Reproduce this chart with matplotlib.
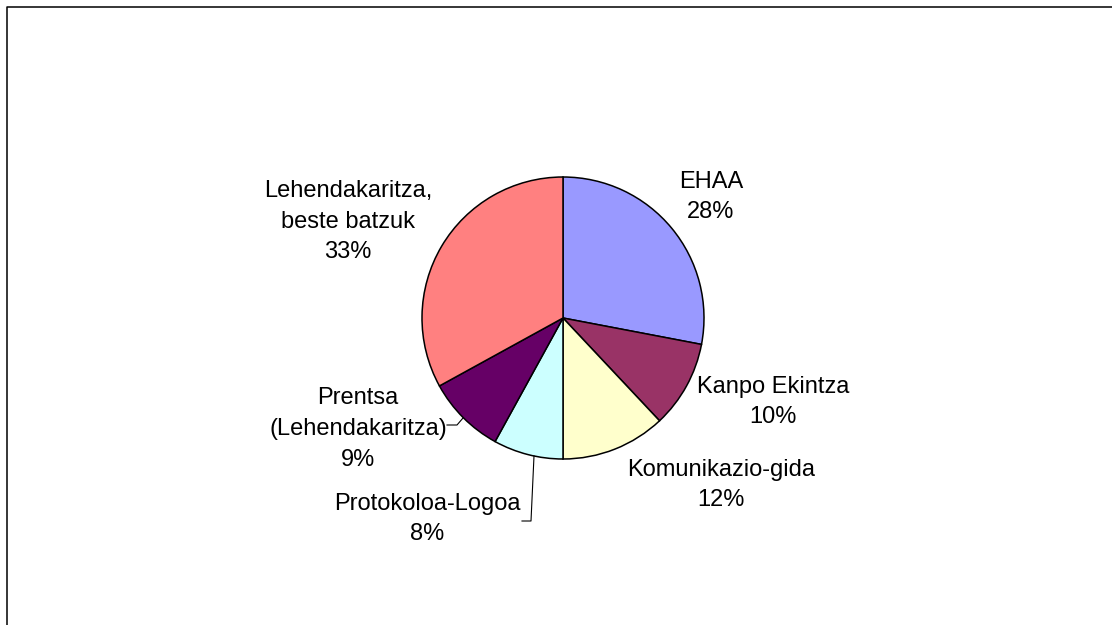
import matplotlib as mpl
mpl.use('Agg')
import matplotlib.pyplot as plt
import numpy as np

labels = ['EHAA', 'Kanpo Ekintza', 'Komunikazio-gida', 'Protokoloa-Logoa',
          'Prentsa\n(Lehendakaritza)', 'Lehendakaritza,\nbeste batzuk']
values = [28, 10, 12, 8, 9, 33]
colors = ['#9999FF', '#993366', '#FFFFCC', '#CCFFFF', '#660066', '#FF8080']

W, H = 1112, 625
plt.rcParams['font.family'] = ['Liberation Sans', 'DejaVu Sans']

fig = plt.figure(figsize=(W / 100, H / 100), dpi=100)
ax = fig.add_axes([0, 0, 1, 1])


def py(y):
    # pixel row -> axis y
    return H - y


cx, cy, r = 563, 318, 141
ax.pie(values, colors=colors, startangle=90, counterclock=False,
       center=(cx, py(cy)), radius=r, frame=True,
       wedgeprops=dict(edgecolor='black', linewidth=1.1))
ax.set_xlim(0, W)
ax.set_ylim(0, H)
ax.set_aspect('equal')
ax.axis('off')

# label centres in pixels
label_pos = [(711, 197), (773, 402), (721, 485), (427, 519), (358, 429), (348, 222)]
for lab, v, (x, y) in zip(labels, values, label_pos):
    ax.text(x, py(y), '%s\n%d%%' % (lab, v), ha='center', va='center',
            fontsize=17, linespacing=1.5, color='black')

# leader lines
ax.plot([463, 457, 447], [py(418), py(425), py(425)], color='black', lw=0.8)
ax.plot([534, 531, 522], [py(456), py(521), py(521)], color='black', lw=0.8)

# chart area border (only top and left visible)
fig.add_artist(plt.Line2D([7 / W, 7 / W, 1], [0, 1 - 7 / H, 1 - 7 / H],
                          transform=fig.transFigure, color='black', lw=1.1))

fig.savefig('out.png', dpi=100)
